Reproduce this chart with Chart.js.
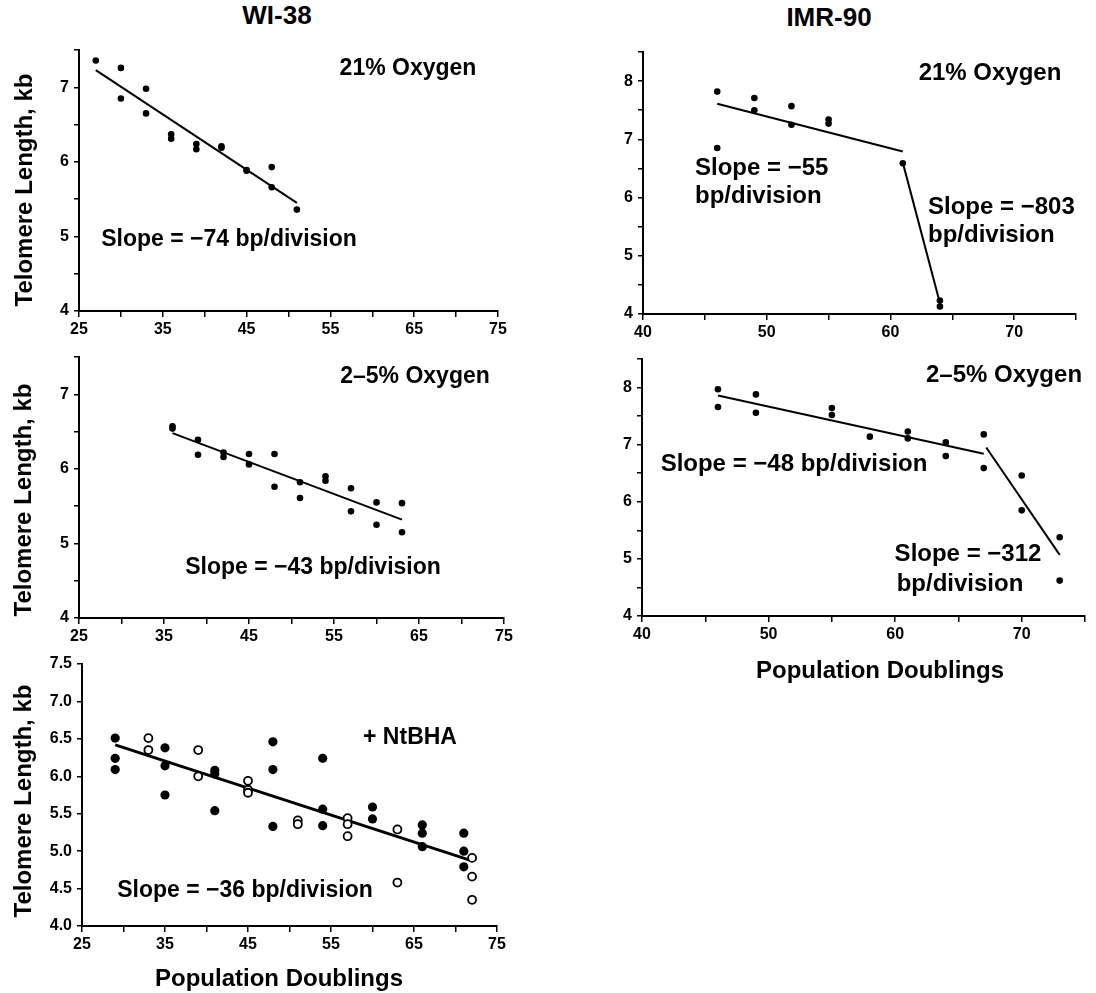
<!DOCTYPE html>
<html><head><meta charset="utf-8">
<script src="https://cdn.jsdelivr.net/npm/chart.js@4.4.1/dist/chart.umd.min.js"></script>
<style>
html,body{margin:0;padding:0;background:#fff;}
body{width:1096px;height:993px;overflow:hidden;position:relative;font-family:"Liberation Sans",Arial,Helvetica,sans-serif;}
.t{position:absolute;font-weight:bold;color:#000;white-space:nowrap;line-height:1;z-index:5;}
.c{transform:translate(-50%,-50%);}
.l{transform:translate(0,-50%);}
.r{transform:translate(-50%,-50%) rotate(-90deg);}
.ann{font-size:23px;}
.ann2{font-size:24px;}
.ax{font-size:24px;}
.ttl{font-size:26px;}
canvas{position:absolute;}
</style></head><body>

<div class="t ttl c" style="left:277px;top:15px">WI-38</div>
<div class="t ttl c" style="left:829px;top:17px">IMR-90</div>

<div class="t ax r" style="left:24px;top:190px">Telomere Length, kb</div>
<div class="t ax r" style="left:23px;top:500px">Telomere Length, kb</div>
<div class="t ax r" style="left:23px;top:801px">Telomere Length, kb</div>
<div class="t ax c" style="left:880px;top:670px">Population Doublings</div>
<div class="t ax c" style="left:279px;top:978px">Population Doublings</div>

<div class="t ann c" style="left:408px;top:67px">21% Oxygen</div>
<div class="t ann c" style="left:229px;top:238px">Slope = &minus;74 bp/division</div>

<div class="t ann2 c" style="left:990px;top:72px">21% Oxygen</div>
<div class="t ann2 l" style="left:695px;top:167px">Slope = &minus;55</div>
<div class="t ann2 l" style="left:695px;top:195px">bp/division</div>
<div class="t ann2 l" style="left:928px;top:206px">Slope = &minus;803</div>
<div class="t ann2 l" style="left:928px;top:234px">bp/division</div>

<div class="t ann c" style="left:415px;top:375px">2&ndash;5% Oxygen</div>
<div class="t ann c" style="left:313px;top:566px">Slope = &minus;43 bp/division</div>

<div class="t ann2 c" style="left:1004px;top:374px">2&ndash;5% Oxygen</div>
<div class="t ann2 c" style="left:794px;top:463px">Slope = &minus;48 bp/division</div>
<div class="t ann2 c" style="left:968px;top:553px">Slope = &minus;312</div>
<div class="t ann2 c" style="left:960px;top:583px">bp/division</div>

<div class="t ann c" style="left:410px;top:736px">+ NtBHA</div>
<div class="t ann c" style="left:245px;top:889px">Slope = &minus;36 bp/division</div>

<canvas id="p1"></canvas>
<canvas id="p2"></canvas>
<canvas id="p3"></canvas>
<canvas id="p4"></canvas>
<canvas id="p5"></canvas>

<script>
// ---------- DATA ----------
// WI-38, 21% oxygen
const wi38_21_x = [27,30,30,33,33,36,36,39,39,42,42,45,45,48,48,51];
const wi38_21_y = [7.36,7.26,6.85,6.98,6.65,6.37,6.31,6.24,6.17,6.21,6.19,5.89,5.88,5.93,5.66,5.36];
const wi38_21_fitX = [27,51];
const wi38_21_fitY = [7.23,5.45];

// IMR-90, 21% oxygen
const imr90_21_x = [46,46,49,49,52,52,55,55,61,64,64];
const imr90_21_y = [7.82,6.85,7.71,7.50,7.57,7.25,7.34,7.27,6.59,4.23,4.13];
const imr90_21_fitAX = [46,61];
const imr90_21_fitAY = [7.61,6.79];
const imr90_21_fitBX = [61,64];
const imr90_21_fitBY = [6.60,4.19];

// WI-38, 2-5% oxygen
const wi38_25_x = [36,36,39,39,42,42,45,45,48,48,51,51,54,54,57,57,60,60,63,63];
const wi38_25_y = [6.57,6.54,6.39,6.19,6.22,6.16,6.20,6.06,6.20,5.76,5.82,5.61,5.90,5.84,5.74,5.43,5.55,5.25,5.54,5.15];
const wi38_25_fitX = [36,63];
const wi38_25_fitY = [6.48,5.32];

// IMR-90, 2-5% oxygen
const imr90_25_x = [46,46,49,49,55,55,58,61,61,64,64,67,67,70,70,73,73];
const imr90_25_y = [7.97,7.66,7.88,7.56,7.64,7.52,7.14,7.23,7.11,7.04,6.80,7.18,6.59,6.46,5.85,5.38,4.62];
const imr90_25_fitAX = [46,67];
const imr90_25_fitAY = [7.86,6.84];
const imr90_25_fitBX = [67.2,73];
const imr90_25_fitBY = [6.95,5.07];

// WI-38 + NtBHA (filled and open symbols)
const ntbha_filled_x = [29,29,29,35,35,35,41,41,41,48,48,48,54,54,54,60,60,66,66,66,71,71,71];
const ntbha_filled_y = [6.51,6.24,6.09,6.38,6.14,5.75,6.08,6.03,5.54,6.46,6.09,5.33,6.24,5.56,5.34,5.59,5.43,5.35,5.24,5.06,5.24,5.00,4.79];
const ntbha_open_x = [33,33,39,39,45,45,45,51,51,57,57,57,63,63,72,72,72];
const ntbha_open_y = [6.51,6.35,6.35,6.00,5.94,5.82,5.78,5.41,5.36,5.44,5.36,5.20,5.29,4.58,4.91,4.66,4.35];
const ntbha_fitX = [29,72];
const ntbha_fitY = [6.42,4.87];

// axis ranges / ticks
const wi38_xRange = [25,75];
const imr90_xRange = [40,75];
const wi38_yRange = [4,7.5];
const imr90_yRange = [4,8.5];
const ntbha_yRange = [4,7.5];

// ---------- DRAWING ----------
const FONT = '"Liberation Sans", Arial, Helvetica, sans-serif';
const pts = (xs, ys) => xs.map((x, i) => ({x: x, y: ys[i]}));

const PAD = {left: 5, top: 15, right: 12, bottom: 5};
const YW = 50, XH = 40;

function dotSet(xs, ys, r) {
  return {data: pts(xs, ys), showLine: false, pointRadius: r, pointHoverRadius: r,
          backgroundColor: '#000', borderColor: '#000', borderWidth: 0, pointStyle: 'circle'};
}
function openSet(xs, ys, r) {
  return {data: pts(xs, ys), showLine: false, pointRadius: r, pointHoverRadius: r,
          backgroundColor: '#fff', borderColor: '#000', borderWidth: 1.8, pointStyle: 'circle'};
}
function lineSet(xs, ys, w) {
  return {data: pts(xs, ys), showLine: true, pointRadius: 0, borderColor: '#000',
          borderWidth: w, fill: false, tension: 0};
}

function makePanel(id, area, xr, yr, xLab, yLab, datasets) {
  const cv = document.getElementById(id);
  const left = area.L - YW - PAD.left;
  const top = area.T - PAD.top;
  const w = area.R + PAD.right - left;
  const h = area.B + XH + PAD.bottom - top;
  cv.width = w; cv.height = h;
  cv.style.left = left + 'px'; cv.style.top = top + 'px';
  cv.style.width = w + 'px'; cv.style.height = h + 'px';
  const tickFont = {family: FONT, size: 16, weight: 'bold'};
  new Chart(cv, {
    type: 'scatter',
    data: {datasets: datasets},
    options: {
      responsive: false, animation: false, devicePixelRatio: 1,
      layout: {padding: PAD},
      plugins: {legend: {display: false}, tooltip: {enabled: false}},
      scales: {
        x: {
          type: 'linear', min: xr[0], max: xr[1],
          ticks: {stepSize: 5, autoSkip: false, maxRotation: 0, color: '#000', font: tickFont, padding: 3,
                  callback: xLab},
          grid: {drawOnChartArea: false, drawTicks: true, tickLength: 6, color: '#000', lineWidth: 1.5},
          border: {display: true, color: '#000', width: 2},
          afterFit: (s) => { s.height = XH; }
        },
        y: {
          type: 'linear', min: yr[0], max: yr[1],
          ticks: {stepSize: 0.5, autoSkip: false, color: '#000', font: tickFont, padding: 5,
                  callback: yLab},
          grid: {drawOnChartArea: false, drawTicks: true, tickLength: 5, color: '#000', lineWidth: 1.5},
          border: {display: true, color: '#000', width: 2},
          afterFit: (s) => { s.width = YW; }
        }
      }
    }
  });
}

const labWI = (v) => ((v - 25) % 10 === 0 ? String(v) : '');
const labIMR = (v) => (v % 10 === 0 ? String(v) : '');
const labInt = (v) => (Number.isInteger(v) ? String(v) : '');
const labDec = (v) => v.toFixed(1);

makePanel('p1', {L: 79, R: 498, T: 50, B: 311}, wi38_xRange, wi38_yRange, labWI, labInt, [
  dotSet(wi38_21_x, wi38_21_y, 3.3),
  lineSet(wi38_21_fitX, wi38_21_fitY, 2)
]);
makePanel('p2', {L: 643, R: 1076, T: 52, B: 314}, imr90_xRange, imr90_yRange, labIMR, labInt, [
  dotSet(imr90_21_x, imr90_21_y, 3.3),
  lineSet(imr90_21_fitAX, imr90_21_fitAY, 2),
  lineSet(imr90_21_fitBX, imr90_21_fitBY, 2)
]);
makePanel('p3', {L: 79, R: 504, T: 357, B: 618}, wi38_xRange, wi38_yRange, labWI, labInt, [
  dotSet(wi38_25_x, wi38_25_y, 3.3),
  lineSet(wi38_25_fitX, wi38_25_fitY, 2)
]);
makePanel('p4', {L: 642, R: 1085, T: 359, B: 616}, imr90_xRange, imr90_yRange, labIMR, labInt, [
  dotSet(imr90_25_x, imr90_25_y, 3.3),
  lineSet(imr90_25_fitAX, imr90_25_fitAY, 2),
  lineSet(imr90_25_fitBX, imr90_25_fitBY, 2)
]);
makePanel('p5', {L: 82, R: 497, T: 664, B: 926}, wi38_xRange, ntbha_yRange, labWI, labDec, [
  dotSet(ntbha_filled_x, ntbha_filled_y, 4.6),
  openSet(ntbha_open_x, ntbha_open_y, 4),
  lineSet(ntbha_fitX, ntbha_fitY, 3)
]);
</script>
</body></html>
